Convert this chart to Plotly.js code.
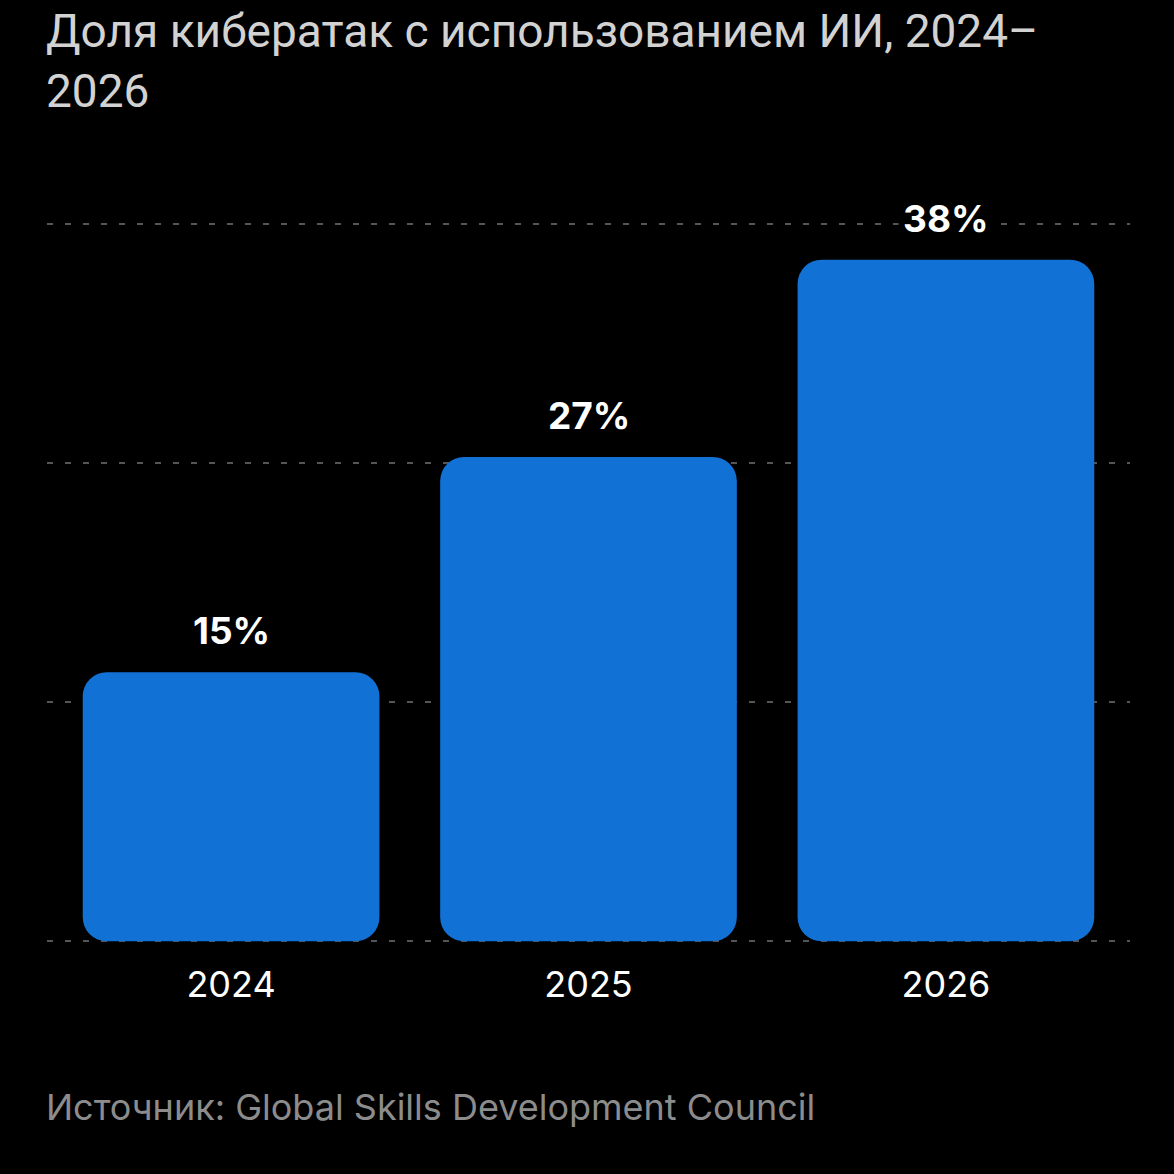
<!DOCTYPE html>
<html>
<head>
<meta charset="utf-8">
<script src="https://cdn.plot.ly/plotly-3.0.1.min.js"></script>
<style>
  html, body { margin: 0; padding: 0; background: #000000; }
  #chart { width: 1174px; height: 1174px; }
</style>
</head>
<body>
<div id="chart"></div>
<script>
// chart data
var years = ["2024", "2025", "2026"];
var shares = [15, 27, 38];
var yTicks = [0, 40 / 3, 80 / 3, 40];

var barColor = "#1271d5";

// an explicit base makes plotly round both ends of the bar
var bars = {
  type: "bar",
  x: years,
  y: shares,
  base: shares.map(function () { return 0; }),
  width: 0.83,
  marker: { color: barColor, cornerradius: 24, line: { width: 0 } },
  hoverinfo: "skip",
};

var valueLabels = years.map(function (yr, i) {
  return {
    x: i,
    y: shares[i],
    xref: "x",
    yref: "y",
    text: "<b>" + shares[i] + "%</b>",
    showarrow: false,
    yanchor: "bottom",
    yshift: 14,
    bgcolor: "#000000",
    borderpad: 4,
    font: { family: "Inter, Roboto, sans-serif", size: 37, color: "#ffffff" },
  };
});

var layout = {
  width: 1174,
  height: 1174,
  showlegend: false,
  paper_bgcolor: "#000000",
  plot_bgcolor: "#000000",
  margin: { t: 222, b: 231, l: 47, r: 44, pad: 0 },
  xaxis: {
    type: "category",
    range: [-0.515, 2.515],
    showgrid: false,
    zeroline: false,
    showline: false,
    ticks: "outside",
    ticklen: 10,
    tickcolor: "rgba(0,0,0,0)",
    tickfont: { family: "Inter, Roboto, sans-serif", size: 36, color: "#ffffff" },
    fixedrange: true,
  },
  yaxis: {
    range: [-0.1, 40.1],
    tickvals: yTicks,
    showticklabels: false,
    showgrid: true,
    gridcolor: "#555555",
    gridwidth: 2,
    griddash: "6px,12px",
    zeroline: false,
    showline: false,
    fixedrange: true,
  },
  annotations: valueLabels.concat([
    {
      text: "Доля кибератак с использованием ИИ, 2024–<br>2026",
      xref: "paper",
      yref: "paper",
      x: 0,
      xshift: -3,
      y: 1 + 220 / 721,
      xanchor: "left",
      yanchor: "top",
      align: "left",
      showarrow: false,
      font: { family: "Roboto, sans-serif", size: 46, color: "#d2d2d2" },
    },
    {
      text: "Источник: Global Skills Development Council",
      xref: "paper",
      yref: "paper",
      x: 0,
      xshift: -3,
      y: -164 / 721,
      xanchor: "left",
      yanchor: "middle",
      showarrow: false,
      font: { family: "Inter, Roboto, sans-serif", size: 36, color: "#8c8c8c" },
    },
  ]),
};

var config = { displayModeBar: false, staticPlot: true };

Plotly.newPlot("chart", [bars], layout, config);
</script>
</body>
</html>
